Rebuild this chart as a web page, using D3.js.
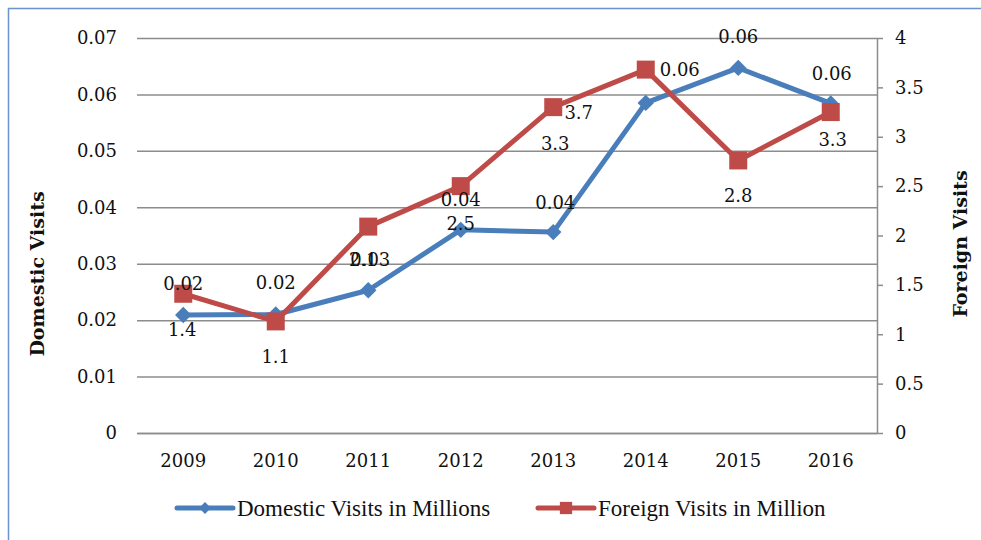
<!DOCTYPE html>
<html>
<head>
<meta charset="utf-8">
<script src="https://cdn.jsdelivr.net/npm/d3@7"></script>
<style>
  html, body { margin: 0; padding: 0; background: #fff; }
  svg { display: block; }
</style>
</head>
<body>
<svg id="chart" width="981" height="540"></svg>
<script>
// ---- data ----
const years = ["2009", "2010", "2011", "2012", "2013", "2014", "2015", "2016"];
const domesticVisits = [0.0209, 0.0210, 0.0253, 0.0360, 0.0356, 0.0585, 0.0647, 0.0584];
const foreignVisits = [1.41, 1.13, 2.09, 2.50, 3.30, 3.68, 2.76, 3.25];
const domesticLabels = ["0.02", "0.02", "0.03", "0.04", "0.04", "0.06", "0.06", "0.06"];
const foreignLabels = ["1.4", "1.1", "2.1", "2.5", "3.3", "3.7", "2.8", "3.3"];
const leftTicks = [0, 0.01, 0.02, 0.03, 0.04, 0.05, 0.06, 0.07];
const leftTickLabels = ["0", "0.01", "0.02", "0.03", "0.04", "0.05", "0.06", "0.07"];
const rightTicks = [0, 0.5, 1, 1.5, 2, 2.5, 3, 3.5, 4];
const rightTickLabels = ["0", "0.5", "1", "1.5", "2", "2.5", "3", "3.5", "4"];
const seriesNames = ["Domestic Visits in Millions", "Foreign Visits in Million"];
const leftTitle = "Domestic Visits";
const rightTitle = "Foreign Visits";

// ---- layout / style ----
const BLUE = "#4a7ebb", RED = "#be4b48", GRID = "#8c8c8c";
const numFont = "'DejaVu Serif', Georgia, serif";
const textFont = "'Liberation Serif', 'Times New Roman', serif";
const titleFont = "'DejaVu Serif', Georgia, serif";
const plot = { left: 137, right: 877, top: 38, bottom: 433 };

const svg = d3.select("#chart");

// outer frame
svg.append("rect")
  .attr("x", 8.5).attr("y", 8.5).attr("width", 1000).attr("height", 600)
  .attr("fill", "none").attr("stroke", "#6a93cf").attr("stroke-width", 1.5);

const x = d3.scaleBand().domain(years).range([plot.left, plot.right]).padding(0);
const cx = d => x(d) + x.bandwidth() / 2;
const yL = d3.scaleLinear().domain([0, 0.07]).range([plot.bottom, plot.top]);
const yR = d3.scaleLinear().domain([0, 4]).range([plot.bottom, plot.top]);

// left axis with gridlines
const gL = svg.append("g").attr("transform", `translate(${plot.left},0)`)
  .call(d3.axisLeft(yL).tickValues(leftTicks)
    .tickFormat((d, i) => leftTickLabels[i])
    .tickSize(-(plot.right - plot.left)).tickPadding(20));
gL.select(".domain").remove();
gL.selectAll(".tick line").attr("stroke", GRID).attr("stroke-width", 1.5);
gL.selectAll(".tick text").attr("font-family", numFont).attr("font-size", 18).attr("fill", "#111");

// right axis
const gR = svg.append("g").attr("transform", `translate(${plot.right},0)`)
  .call(d3.axisRight(yR).tickValues(rightTicks)
    .tickFormat((d, i) => rightTickLabels[i])
    .tickSizeInner(6).tickSizeOuter(0).tickPadding(12));
gR.select(".domain").attr("stroke", GRID).attr("stroke-width", 1.5);
gR.selectAll(".tick line").attr("stroke", GRID).attr("stroke-width", 1.5);
gR.selectAll(".tick text").attr("font-family", numFont).attr("font-size", 18).attr("fill", "#111");

// x axis
const gX = svg.append("g").attr("transform", `translate(0,${plot.bottom})`)
  .call(d3.axisBottom(x).tickSize(0).tickPadding(21));
gX.select(".domain").attr("stroke", GRID).attr("stroke-width", 1.5);
gX.selectAll(".tick text").attr("font-family", numFont).attr("font-size", 18).attr("fill", "#111");

// axis titles
svg.append("text")
  .attr("transform", `translate(44,${274}) rotate(-90)`)
  .attr("text-anchor", "middle")
  .attr("font-family", titleFont).attr("font-weight", "bold").attr("font-size", 19)
  .attr("fill", "#111").text(leftTitle);
svg.append("text")
  .attr("transform", `translate(967,${244}) rotate(-90)`)
  .attr("text-anchor", "middle")
  .attr("font-family", titleFont).attr("font-weight", "bold").attr("font-size", 19)
  .attr("fill", "#111").text(rightTitle);

// lines
const domPts = years.map((y, i) => [cx(y), yL(domesticVisits[i])]);
const forPts = years.map((y, i) => [cx(y), yR(foreignVisits[i])]);
const line = d3.line();

const diamond = d3.symbol(d3.symbolSquare, 135);
const square = d3.symbol(d3.symbolSquare, 324);

svg.append("path").attr("d", line(domPts)).attr("fill", "none")
  .attr("stroke", BLUE).attr("stroke-width", 5).attr("stroke-linejoin", "round");
svg.selectAll(".dm").data(domPts).enter().append("path")
  .attr("d", diamond)
  .attr("transform", d => `translate(${d[0]},${d[1]}) rotate(45)`)
  .attr("fill", BLUE);

svg.append("path").attr("d", line(forPts)).attr("fill", "none")
  .attr("stroke", RED).attr("stroke-width", 5).attr("stroke-linejoin", "round");
svg.selectAll(".fm").data(forPts).enter().append("path")
  .attr("d", square)
  .attr("transform", d => `translate(${d[0]},${d[1]})`)
  .attr("fill", RED);

// data labels (offsets from the point, matching reference placement)
const domOffsets = [[0, -32], [0, -32], [2, -31], [0, -30], [2, -30], [34, -33], [0, -31], [1, -30]];
const forOffsets = [[-1, 36], [0, 35], [-5, 33], [0, 37], [2, 36], [-67, 43], [0, 35], [2, 27]];

svg.selectAll(".dl").data(domPts).enter().append("text")
  .attr("x", (d, i) => d[0] + domOffsets[i][0])
  .attr("y", (d, i) => d[1] + domOffsets[i][1])
  .attr("dy", "0.36em").attr("text-anchor", "middle")
  .attr("font-family", numFont).attr("font-size", 18).attr("fill", "#111")
  .text((d, i) => domesticLabels[i]);
svg.selectAll(".fl").data(forPts).enter().append("text")
  .attr("x", (d, i) => d[0] + forOffsets[i][0])
  .attr("y", (d, i) => d[1] + forOffsets[i][1])
  .attr("dy", "0.36em").attr("text-anchor", "middle")
  .attr("font-family", numFont).attr("font-size", 18).attr("fill", "#111")
  .text((d, i) => foreignLabels[i]);

// legend
const legendY = 508;
const legendItems = [
  { name: seriesNames[0], color: BLUE, sym: "diamond", x0: 177 },
  { name: seriesNames[1], color: RED, sym: "square", x0: 538 }
];
legendItems.forEach(it => {
  const g = svg.append("g");
  g.append("line").attr("x1", it.x0).attr("x2", it.x0 + 56)
    .attr("y1", legendY).attr("y2", legendY)
    .attr("stroke", it.color).attr("stroke-width", 5).attr("stroke-linecap", "round");
  g.append("path")
    .attr("d", it.sym === "diamond" ? d3.symbol(d3.symbolSquare, 70)() : d3.symbol(d3.symbolSquare, 150)())
    .attr("transform", `translate(${it.x0 + 28},${legendY}) rotate(${it.sym === "diamond" ? 45 : 0})`)
    .attr("fill", it.color);
  g.append("text").attr("x", it.x0 + 60).attr("y", legendY).attr("dy", "0.35em")
    .attr("font-family", textFont).attr("font-size", 23).attr("fill", "#111")
    .text(it.name);
});
</script>
</body>
</html>
